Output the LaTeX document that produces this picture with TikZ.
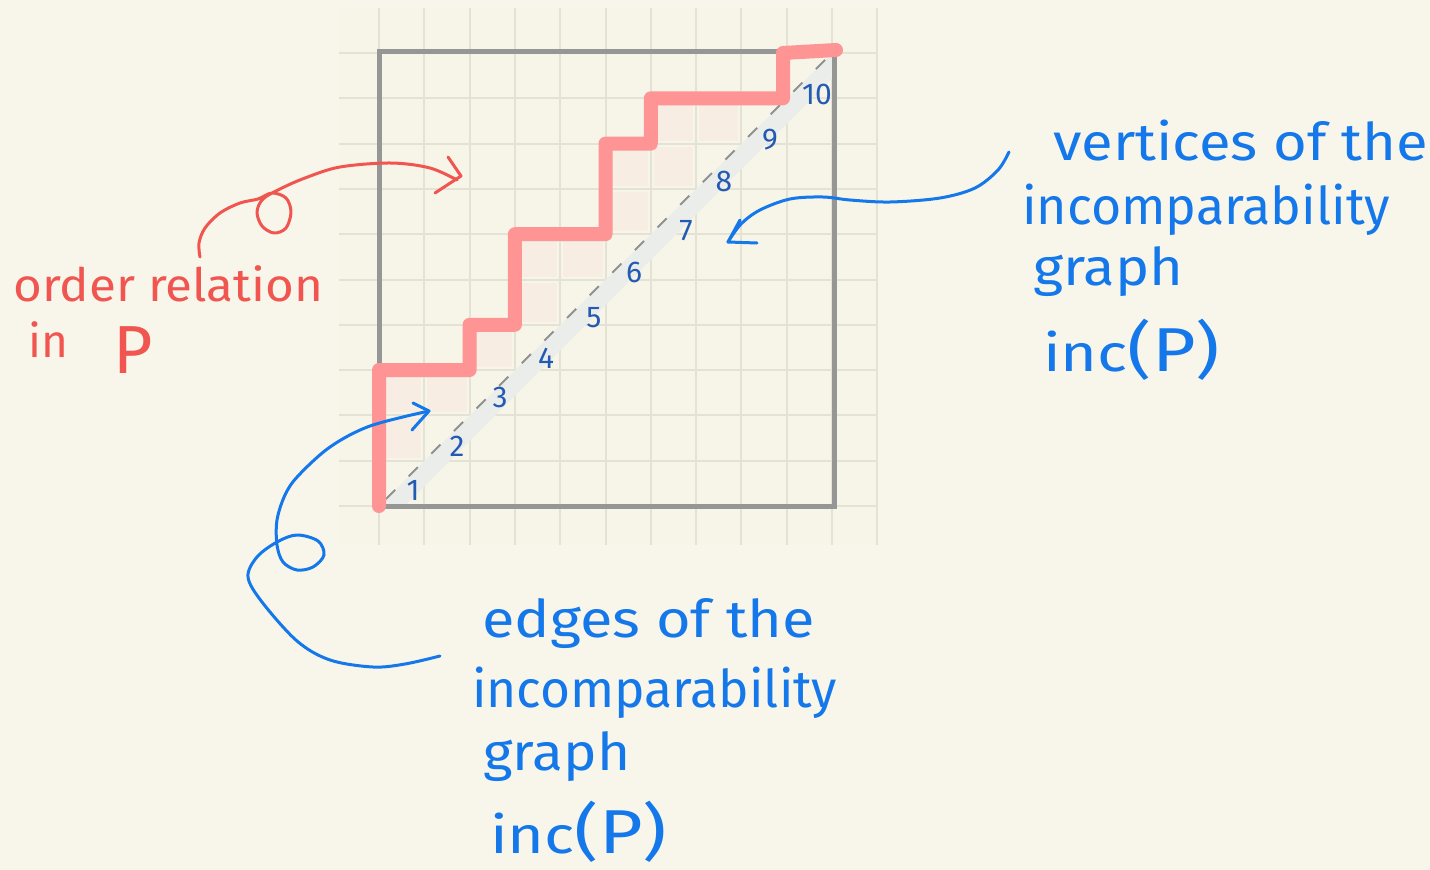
\documentclass[tikz,border=0pt]{standalone}
\usepackage{fontspec}
\usepackage{graphicx}
\setmainfont{Fira Sans}
\definecolor{bg}{RGB}{248,246,234}
\definecolor{gridbg}{RGB}{247,245,232}
\definecolor{gridc}{RGB}{228,226,213}
\definecolor{cellc}{RGB}{247,237,226}
\definecolor{bandc}{RGB}{234,237,233}
\definecolor{sqgray}{RGB}{150,150,150}
\definecolor{dashgray}{RGB}{145,145,145}
\definecolor{pinkc}{RGB}{255,148,148}
\definecolor{redc}{RGB}{240,85,80}
\definecolor{blueA}{RGB}{20,120,235}
\definecolor{blueN}{RGB}{35,90,180}
\newcommand\fitw[2]{\resizebox{#1}{\height}{#2}}
\begin{document}
\begin{tikzpicture}[x=1pt,y=-1pt,
  gridline/.style={draw=gridc, line width=2pt},
  sqframe/.style={draw=sqgray, line width=5pt},
  stair/.style={draw=pinkc, line width=14pt, line cap=round, line join=round},
  diagdash/.style={draw=dashgray, line width=2pt, dash pattern=on 13pt off 19pt},
  digit/.style={text=blueN, font=\fontsize{30}{30}\selectfont, inner sep=0pt},
  bluetxt/.style={text=blueA, font=\fontsize{52}{60}\selectfont, inner sep=0pt, anchor=base west},
  redtxt/.style={text=redc, font=\fontsize{46}{54}\selectfont, inner sep=0pt, anchor=base west},
  bluearrow/.style={draw=blueA, line width=3pt, line cap=round, line join=round},
  redarrow/.style={draw=redc, line width=3pt, line cap=round, line join=round}]
\useasboundingbox (0,0) rectangle (1430,870);
\fill[bg] (0,0) rectangle (1430,870);
% grid
\fill[gridbg] (339,8) rectangle (877,545);
\foreach \k in {0,...,11} \draw[gridline] ({379+45.3*\k},8) -- ({379+45.3*\k},545);
\foreach \k in {0,...,10} \draw[gridline] (339,{506-45.3*\k}) -- (877,{506-45.3*\k});
% shaded cells between staircase and diagonal
\foreach \cc/\rr in {0/1,0/2,1/2,2/3,3/4,3/5,4/5,5/6,5/7,6/7,6/8,7/8}
  \fill[cellc] ({379+45.3*\cc+3},{506-45.3*\rr-3}) rectangle ({379+45.3*(\cc+1)-3},{506-45.3*(\rr+1)+3});
% diagonal band
\begin{scope}
  \clip (379,51) rectangle (834,506);
  \draw[bandc, line width=18pt] (379,519) -- (847,51);
\end{scope}
\coordinate (ds) at (386,499);
\coordinate (de) at (829,56);
\draw[diagdash] (ds) -- (de);
% frame
\draw[sqframe] (379,51) rectangle (834,506);
% staircase
\draw[stair] (379,506) -- (379,370) -- (469.6,370) -- (469.6,324.8) -- (514.9,324.8)
  -- (514.9,234.2) -- (605.5,234.2) -- (605.5,143.6) -- (650.8,143.6) -- (650.8,98.3)
  -- (783,98.3) -- (783,53) -- (836,50);
% digits
\node[digit] (n1) at (413,490) {1};
\node[digit] (n2) at (457,446) {2};
\node[digit] (n3) at (500,397) {3};
\node[digit] (n4) at (546,358) {4};
\node[digit] (n5) at (594,318) {5};
\node[digit] (n6) at (634,272) {6};
\node[digit] (n7) at (686,231) {7};
\node[digit] (n8) at (724,181) {8};
\node[digit] (n9) at (770,140) {9};
\node[digit] (n10) at (817,94) {10};
% red text
\node[redtxt] (ord) at (13,301) {\fitw{310pt}{order relation}};
\node[redtxt] (inp) at (28,357) {\fitw{125pt}{in\hspace{46pt}\raisebox{-16pt}{\fontsize{68}{68}\selectfont P}}};
% right blue text
\node[bluetxt] (v1) at (1053,160) {\fitw{375pt}{vertices of the}};
\node[bluetxt] (v2) at (1022,224) {\fitw{368pt}{incomparability}};
\node[bluetxt] (v3) at (1033,285) {\fitw{150pt}{graph}};
\node[bluetxt] (v4) at (1043,371) {\fitw{177pt}{inc{\fontsize{62}{62}\selectfont(P)}}};
% bottom blue text
\node[bluetxt] (e1) at (482,637) {\fitw{333pt}{edges of the}};
\node[bluetxt] (e2) at (472,707) {\fitw{365pt}{incomparability}};
\node[bluetxt] (e3) at (483,770) {\fitw{147pt}{graph}};
\node[bluetxt] (e4) at (490,853) {\fitw{177pt}{inc{\fontsize{62}{62}\selectfont(P)}}};
% red arrow: order relation -> region above staircase
\coordinate (rs) at (200,257);
\coordinate (rt) at (461,176);
\draw[redarrow] plot[smooth, tension=0.55] coordinates {(rs) (199,243) (205,228) (220,213) (240,203) (258,199) (272,193) (286,198) (291,212) (286,228) (274,233) (262,226) (257,212) (263,199) (280,189) (305,178) (340,167) (391,163) (430,168) (457,180)};
\draw[redarrow] (448,157) -- (rt) -- (435,193);
% blue arrow: vertices
\coordinate (bs) at (1009,152);
\coordinate (bt) at (728,242);
\draw[bluearrow] plot[smooth, tension=0.55] coordinates {(bs) (998,170) (975,188) (940,198) (890,202) (850,200) (823,197) (790,199) (760,210) (741,224) (bt)};
\draw[bluearrow] (740,220) -- (bt) -- (757,243);
% blue arrow: edges
\coordinate (es) at (440,656);
\coordinate (et) at (429,411);
\draw[bluearrow] plot[smooth, tension=0.55] coordinates {(es) (405,664) (373,667) (330,660) (297,641) (262,602) (248,577) (257,557) (277,542) (297,535) (318,541) (324,555) (313,567) (297,570) (283,562) (277,545) (277,520) (285,495) (298,476) (330,447) (370,426) (et)};
\draw[bluearrow] (413,403) -- (et) -- (412,430);
\end{tikzpicture}
\end{document}
